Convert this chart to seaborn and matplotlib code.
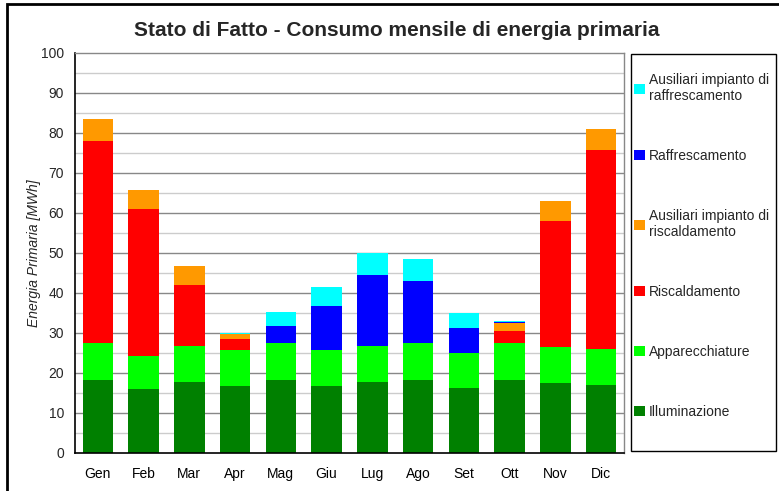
import numpy as np
import pandas as pd
import matplotlib
matplotlib.use('Agg')
import matplotlib.pyplot as plt
import seaborn as sns
from matplotlib.patches import Patch, Rectangle
from matplotlib.ticker import MultipleLocator

# Dati (MWh)
mesi = ['Gen', 'Feb', 'Mar', 'Apr', 'Mag', 'Giu', 'Lug', 'Ago', 'Set', 'Ott', 'Nov', 'Dic']
illuminazione = [18.2, 15.9, 17.7, 16.7, 18.2, 16.7, 17.7, 18.2, 16.2, 18.2, 17.4, 16.9]
apparecchiature = [9.3, 8.4, 9.1, 9.0, 9.3, 9.0, 9.1, 9.3, 8.8, 9.3, 9.1, 9.1]
riscaldamento = [50.5, 36.6, 15.2, 2.8, 0, 0, 0, 0, 0, 3.0, 31.4, 49.7]
aus_riscaldamento = [5.5, 4.8, 4.8, 1.2, 0, 0, 0, 0, 0, 2.0, 5.2, 5.3]
raffrescamento = [0, 0, 0, 0, 4.2, 11.1, 17.8, 15.5, 6.2, 0.2, 0, 0]
aus_raffrescamento = [0, 0, 0, 0.3, 3.6, 4.7, 5.4, 5.6, 3.8, 0.3, 0, 0]

serie = ['Illuminazione', 'Apparecchiature', 'Riscaldamento',
         'Ausiliari impianto di\nriscaldamento', 'Raffrescamento',
         'Ausiliari impianto di\nraffrescamento']
colori = ['#008000', '#00FF00', '#FF0000', '#FF9900', '#0000FF', '#00FFFF']

df = pd.DataFrame({'mese': mesi,
                   serie[0]: illuminazione,
                   serie[1]: apparecchiature,
                   serie[2]: riscaldamento,
                   serie[3]: aus_riscaldamento,
                   serie[4]: raffrescamento,
                   serie[5]: aus_raffrescamento})
cum = df[serie].cumsum(axis=1)
cum['mese'] = df['mese']

sns.set_style('white')
plt.rcParams['font.family'] = ['Liberation Sans', 'DejaVu Sans']

W, H = 779, 491
fig = plt.figure(figsize=(W / 100, H / 100), dpi=100)
fig.patch.set_facecolor('white')
ax = fig.add_axes([75 / W, 1 - 453 / H, (624 - 75) / W, 400 / H])

# griglia
for v in range(5, 100, 5):
    ax.axhline(v, color='#888888' if v % 10 == 0 else '#cccccc', lw=1.0, zorder=0)

# barre sovrapposte: dal cumulato più alto al più basso
for s, c in reversed(list(zip(serie, colori))):
    sns.barplot(data=cum, x='mese', y=s, color=c, width=0.67, saturation=1,
                ax=ax, zorder=2, edgecolor='none', linewidth=0)

ax.set_ylim(0, 100)
ax.set_xlim(-0.5, 11.5)
ax.yaxis.set_major_locator(MultipleLocator(10))
ax.yaxis.set_minor_locator(MultipleLocator(5))
ax.set_xticks(np.arange(-0.5, 12, 1), minor=True)
ax.tick_params(axis='x', which='major', length=0, labelsize=10, pad=10, colors='black')
ax.tick_params(axis='x', which='minor', length=5, width=1, direction='out', colors='black')
ax.tick_params(axis='y', which='major', length=5, width=1, direction='out', labelsize=10, pad=3)
ax.tick_params(axis='y', which='minor', length=5, width=1, direction='out')
ax.set_xlabel('')
ax.set_ylabel('Energia Primaria [MWh]', fontsize=10, fontstyle='italic', labelpad=0)

for sp in ['left', 'bottom']:
    ax.spines[sp].set_color('black')
    ax.spines[sp].set_linewidth(1.2)
for sp in ['top', 'right']:
    ax.spines[sp].set_color('#888888')
    ax.spines[sp].set_linewidth(1.0)

fig.text(397 / W, 1 - 30 / H, 'Stato di Fatto - Consumo mensile di energia primaria',
         ha='center', va='center', fontsize=15, fontweight='bold')

# riquadro legenda
fig.patches.append(Rectangle((631 / W, 1 - 451 / H), 145 / W, 397 / H, transform=fig.transFigure,
                             fill=False, edgecolor='black', lw=1.0))
handles = [Patch(facecolor=c, edgecolor='none') for c in reversed(colori)]
leg = fig.legend(handles, list(reversed(serie)), loc='center left',
                 bbox_to_anchor=(633 / W, 1 - 246 / H), frameon=False,
                 fontsize=10, handlelength=0.75, handleheight=0.75, handletextpad=0.3,
                 labelspacing=3.3, borderpad=0.1, borderaxespad=0)

# cornice esterna
fig.patches.append(Rectangle((6.5 / W, -0.1), 1.2, 1.1 - 4 / H, transform=fig.transFigure,
                             fill=False, edgecolor='black', lw=2.0))

fig.savefig('out.png', dpi=100)
